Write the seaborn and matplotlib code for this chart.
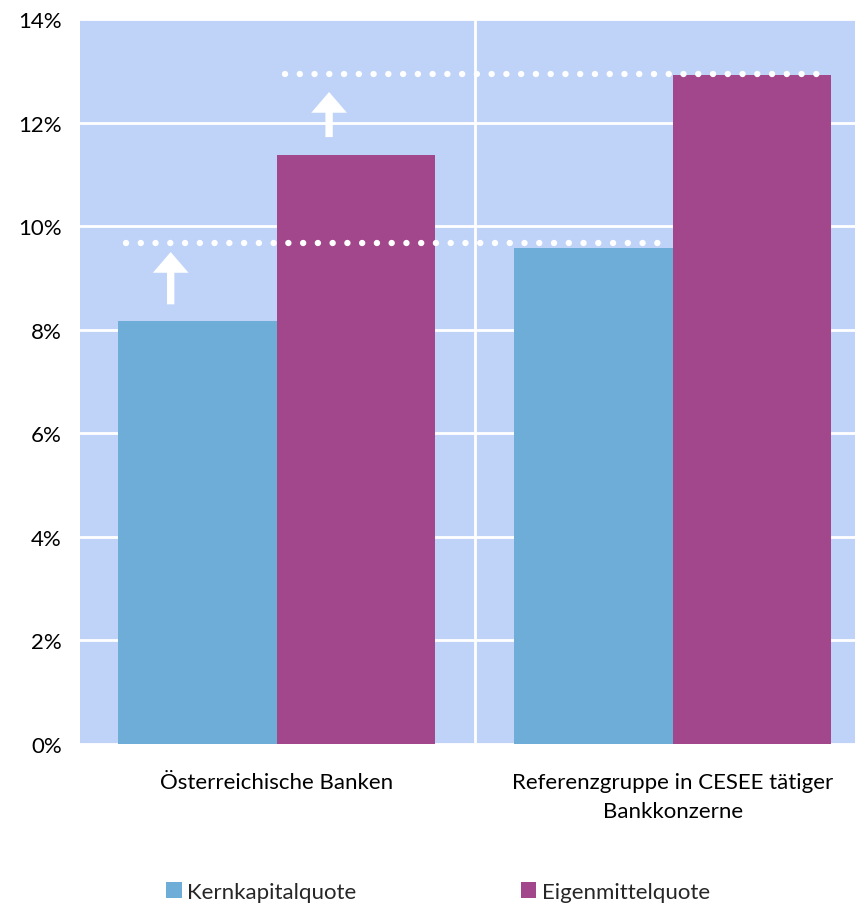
import matplotlib
matplotlib.use("Agg")
import matplotlib.pyplot as plt
from matplotlib.patches import FancyArrow
import seaborn as sns
import pandas as pd

# Capital ratios (% of risk-weighted assets)
groups = ["Österreichische Banken", "Referenzgruppe in CESEE tätiger\nBankkonzerne"]
series = ["Kernkapitalquote", "Eigenmittelquote"]
kern = [8.17, 9.58]
eigen = [11.37, 12.92]
# Peer-group benchmark levels shown as dotted lines
benchmark = [9.68, 12.94]
# Arrow spans (start, end) above the Austrian bars
arrow_spans = [(8.49, 9.50), (11.72, 12.59)]
yticks = [0, 2, 4, 6, 8, 10, 12, 14]

colors = ["#6FADD9", "#A2478B"]
bg = "#BFD3F8"

df = pd.DataFrame({
    "Gruppe": groups * 2,
    "Serie": [series[0]] * 2 + [series[1]] * 2,
    "Wert": kern + eigen,
})

sns.set_theme(style="white")
plt.rcParams["font.family"] = ["Lato", "DejaVu Sans"]

fig = plt.figure(figsize=(8.55, 9.04), dpi=100)
ax = fig.add_axes([80 / 855, 1 - 745 / 904, 1 - 80 / 855, (745 - 20) / 904])
ax.set_facecolor(bg)

sns.barplot(data=df, x="Gruppe", y="Wert", hue="Serie", palette=colors,
            width=0.8, gap=0, saturation=1, ax=ax, legend=True, zorder=3,
            linewidth=0, edgecolor="none")

ax.set_ylim(0, 14)
ax.set_xlim(-0.497, 1.46)
ax.set_yticks(yticks)
ax.set_yticklabels([f"{t}%" for t in yticks])
ax.grid(axis="y", color="white", linewidth=2, zorder=1)
ax.axvline(0.5, color="white", linewidth=2, zorder=1)
for s in ax.spines.values():
    s.set_visible(False)
ax.tick_params(axis="y", length=0, pad=13, labelsize=16, labelcolor="black")
ax.tick_params(axis="x", length=0, pad=20.5, labelsize=16, labelcolor="black")
for lab in ax.get_xticklabels():
    lab.set_linespacing(1.55)
ax.set_xlabel("")
ax.set_ylabel("")

# Dotted benchmark lines spanning from the Austrian bar to the peer bar
bars_k = ax.containers[0]
bars_e = ax.containers[1]
for cont, level in zip([bars_k, bars_e], benchmark):
    x0 = cont[0].get_x() + 0.02
    x1 = cont[1].get_x() + cont[1].get_width() - 0.025
    ax.plot([x0, x1], [level, level], color="white", linewidth=4.6,
            linestyle=(0, (0.01, 2.3)), dash_capstyle="round",
            solid_capstyle="round", zorder=4)

# Upward arrows over the Austrian bars
for cont, (y0, y1) in zip([bars_k, bars_e], arrow_spans):
    b = cont[0]
    xc = b.get_x() + b.get_width() * 0.33
    ax.add_patch(FancyArrow(xc, y0, 0, y1 - y0, width=0.0185, head_width=0.09,
                            head_length=0.40, length_includes_head=True,
                            color="white", linewidth=0, zorder=5))

leg = ax.legend(loc="lower center", bbox_to_anchor=(0.462, -0.245),
                ncol=2, frameon=False, fontsize=16, handlelength=0.7,
                handleheight=0.7, handletextpad=0.25, columnspacing=7.4,
                title=None)

fig.savefig("out.png", dpi=100)
